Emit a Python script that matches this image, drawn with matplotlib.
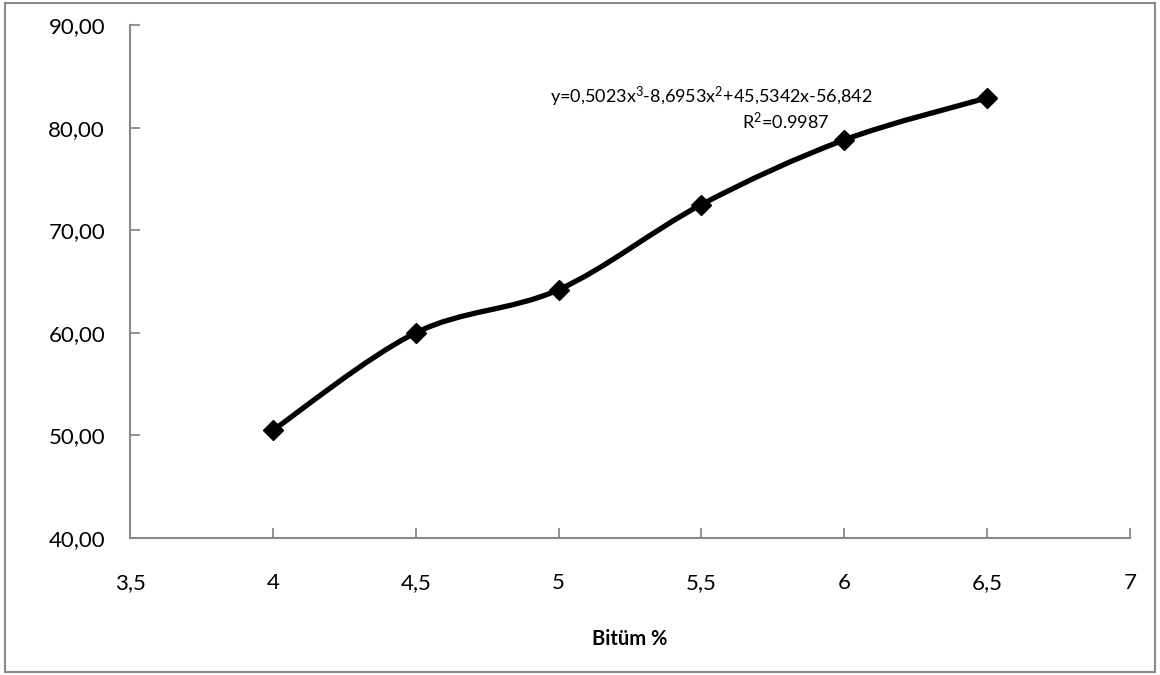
import matplotlib
matplotlib.use("Agg")
import matplotlib.pyplot as plt
from matplotlib.path import Path
from matplotlib.patches import PathPatch, Rectangle

bitum = [4.0, 4.5, 5.0, 5.5, 6.0, 6.5]
values = [50.5, 60.0, 64.2, 72.5, 78.8, 82.9]
x_ticks = [3.5, 4, 4.5, 5, 5.5, 6, 6.5, 7]
x_tick_labels = ["3,5", "4", "4,5", "5", "5,5", "6", "6,5", "7"]
y_ticks = [40, 50, 60, 70, 80, 90]
y_tick_labels = ["40,00", "50,00", "60,00", "70,00", "80,00", "90,00"]
equation = r"y=0,5023x$^{3}$-8,6953x$^{2}$+45,5342x-56,842"
r2_text = r"R$^{2}$=0.9987"
x_label = "Bitüm %"

plt.rcParams['font.family'] = ['Lato', 'DejaVu Sans']
plt.rcParams['mathtext.fontset'] = 'custom'
plt.rcParams['mathtext.rm'] = 'Lato'
plt.rcParams['mathtext.it'] = 'Lato'
plt.rcParams['mathtext.default'] = 'regular'

fig = plt.figure(figsize=(11.6, 6.75), dpi=100)
fig.patches.append(Rectangle((5/1160, 3/675), 1150/1160, 669/675, transform=fig.transFigure,
                             fill=False, edgecolor='#898989', linewidth=1.5))
ax = fig.add_axes([130/1160, 137/675, 1000/1160, 513/675])

# smoothed line through the points (Catmull-Rom style Bezier, like Excel's smoothing)
n = len(bitum)
verts = [(bitum[0], values[0])]
codes = [Path.MOVETO]
t = 1/6
for i in range(n - 1):
    x0, y0 = (bitum[i-1], values[i-1]) if i > 0 else (bitum[i], values[i])
    x1, y1 = bitum[i], values[i]
    x2, y2 = bitum[i+1], values[i+1]
    x3, y3 = (bitum[i+2], values[i+2]) if i + 2 < n else (bitum[i+1], values[i+1])
    c1 = (x1 + (x2 - x0) * t, y1 + (y2 - y0) * t)
    c2 = (x2 - (x3 - x1) * t, y2 - (y3 - y1) * t)
    verts += [c1, c2, (x2, y2)]
    codes += [Path.CURVE4] * 3
ax.add_patch(PathPatch(Path(verts, codes), fill=False, edgecolor='black', linewidth=3.8,
                       capstyle='round', joinstyle='round', zorder=2))
ax.plot(bitum, values, linestyle='none', marker='D', markersize=10, color='black', zorder=3)

ax.set_xlim(3.5, 7)
ax.set_ylim(40, 90)
ax.set_xticks(x_ticks)
ax.set_xticklabels(x_tick_labels)
ax.set_yticks(y_ticks)
ax.set_yticklabels(y_tick_labels)
for s in ['top', 'right']:
    ax.spines[s].set_visible(False)
for s in ['left', 'bottom']:
    ax.spines[s].set_color('#898989')
    ax.spines[s].set_linewidth(1.5)
ax.tick_params(axis='both', direction='in', length=7, width=1.3, color='#898989',
               labelsize=16, labelcolor='black')
ax.tick_params(axis='x', pad=25)
ax.tick_params(axis='y', pad=18)
ax.set_xlabel(x_label, fontsize=14.5, fontweight='bold', labelpad=26)

fig.text(550/1160, 1 - 97/675, equation, fontsize=13, ha='left', va='center')
fig.text(742/1160, 1 - 121/675, r2_text, fontsize=13, ha='left', va='center')

fig.savefig("out.png", dpi=100)
